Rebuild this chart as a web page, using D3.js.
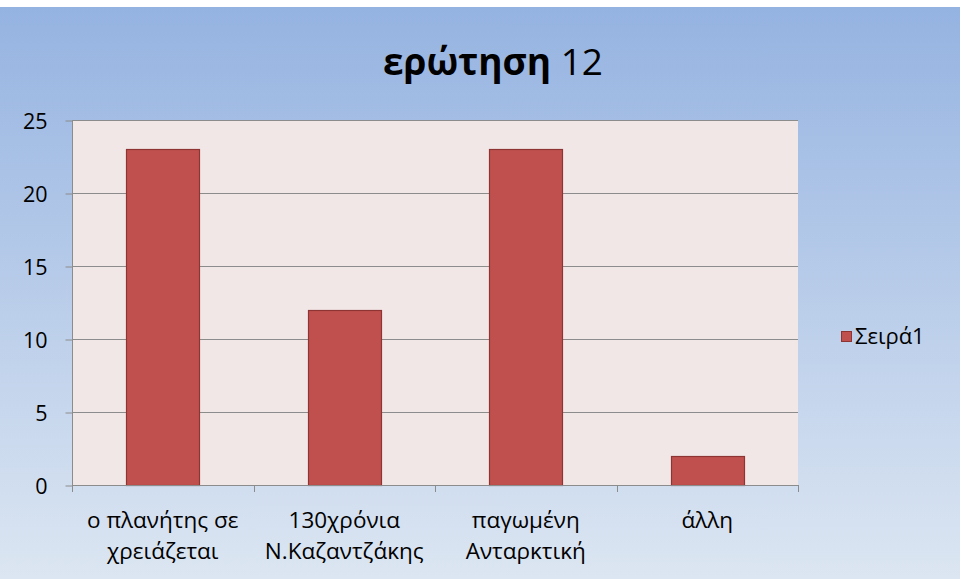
<!DOCTYPE html>
<html>
<head>
<meta charset="utf-8">
<script src="https://cdn.jsdelivr.net/npm/d3@7"></script>
<style>
  body { margin: 0; background: #fff; }
  svg { display: block; }
  text { font-family: "Open Sans", "Noto Sans", sans-serif; fill: #000; }
</style>
</head>
<body>
<div id="chart"></div>
<script>
var categories = [['ο πλανήτης σε', 'χρειάζεται'], ['130χρόνια', 'Ν.Καζαντζάκης'], ['παγωμένη', 'Ανταρκτική'], ['άλλη']];
var values = [23, 12, 23, 2];
var yTicks = [0, 5, 10, 15, 20, 25];
var seriesName = 'Σειρά1';

var width = 961, height = 579;
var plot = { left: 72, top: 120, right: 798, bottom: 485 };

var svg = d3.select('#chart').append('svg')
	.attr('width', width)
	.attr('height', height);

// background gradient
var defs = svg.append('defs');
var grad = defs.append('linearGradient')
	.attr('id', 'bg')
	.attr('x1', 0).attr('y1', 0).attr('x2', 0).attr('y2', 1);
grad.append('stop').attr('offset', '0%').attr('stop-color', '#95b3e1');
grad.append('stop').attr('offset', '100%').attr('stop-color', '#dce6f2');

svg.append('rect')
	.attr('x', 0).attr('y', 7)
	.attr('width', width - 1).attr('height', height - 7)
	.attr('fill', 'url(#bg)');

// title
var title = svg.append('text')
	.attr('x', 493).attr('y', 75)
	.attr('text-anchor', 'middle')
	.style('font-size', '37px');
title.append('tspan').style('font-weight', 'bold').text('ερώτηση');
title.append('tspan').text(' 12');

var x = d3.scaleBand()
	.domain(d3.range(categories.length))
	.range([plot.left, plot.right])
	.paddingInner(0.6)
	.paddingOuter(0.3);

var y = d3.scaleLinear()
	.domain([0, 25])
	.range([plot.bottom, plot.top]);

// plot area
svg.append('rect')
	.attr('x', plot.left).attr('y', plot.top)
	.attr('width', plot.right - plot.left).attr('height', plot.bottom - plot.top)
	.attr('fill', '#f2e7e7');

// gridlines
svg.append('g')
	.selectAll('line')
	.data(yTicks.filter(function(d) { return d > 0; }))
	.enter().append('line')
	.attr('x1', plot.left).attr('x2', plot.right)
	.attr('y1', function(d) { return Math.round(y(d)) + 0.5; })
	.attr('y2', function(d) { return Math.round(y(d)) + 0.5; })
	.attr('stroke', '#8c8c8c')
	.attr('stroke-width', 1);

// y axis
var yAxis = d3.axisLeft(y).tickValues(yTicks).tickSize(7).tickPadding(18);
var gy = svg.append('g')
	.attr('transform', 'translate(' + (plot.left + 0.5) + ',0.5)')
	.call(yAxis);
gy.select('.domain').attr('stroke', '#8c8c8c').attr('d', 'M0,' + (plot.top - 0.5) + 'V' + (plot.bottom - 0.5));
gy.selectAll('.tick line').attr('stroke', '#8c8c8c');
gy.selectAll('.tick text')
	.style('font-size', '21.5px')
	.attr('dy', '0.36em');
gy.attr('font-family', null).attr('font-size', null);

// bars
svg.append('g')
	.selectAll('rect')
	.data(values)
	.enter().append('rect')
	.attr('x', function(d, i) { return Math.round(x(i)) + 0.5; })
	.attr('y', function(d) { return Math.round(y(d)) + 0.5; })
	.attr('width', Math.round(x.bandwidth()))
	.attr('height', function(d) { return Math.round(plot.bottom - y(d)); })
	.attr('fill', '#c0504d')
	.attr('stroke', '#8e3432')
	.attr('stroke-width', 1.2);

// x axis
var xEdges = d3.range(categories.length + 1).map(function(i) {
	return plot.left + i * (plot.right - plot.left) / categories.length;
});
var gx = svg.append('g');
gx.append('line')
	.attr('x1', plot.left).attr('x2', plot.right)
	.attr('y1', plot.bottom + 0.5).attr('y2', plot.bottom + 0.5)
	.attr('stroke', '#8c8c8c');
gx.selectAll('line.tick')
	.data(xEdges)
	.enter().append('line')
	.attr('class', 'tick')
	.attr('x1', function(d) { return Math.round(d) + 0.5; })
	.attr('x2', function(d) { return Math.round(d) + 0.5; })
	.attr('y1', plot.bottom).attr('y2', plot.bottom + 7)
	.attr('stroke', '#8c8c8c');

var step = (plot.right - plot.left) / categories.length;
gx.selectAll('text')
	.data(categories)
	.enter().append('text')
	.attr('text-anchor', 'middle')
	.attr('x', function(d, i) { return plot.left + step * (i + 0.5); })
	.attr('y', 528)
	.style('font-size', '22.5px')
	.each(function(d) {
		var t = d3.select(this);
		d.forEach(function(line, k) {
			t.append('tspan')
				.attr('x', t.attr('x'))
				.attr('dy', k === 0 ? 0 : 31)
				.text(line);
		});
	});

// legend
var legend = svg.append('g');
legend.append('rect')
	.attr('x', 841.5).attr('y', 331.5)
	.attr('width', 10).attr('height', 10)
	.attr('fill', '#c0504d')
	.attr('stroke', '#8e3432');
legend.append('text')
	.attr('x', 855).attr('y', 344)
	.style('font-size', '22px')
	.text(seriesName);
</script>
</body>
</html>
